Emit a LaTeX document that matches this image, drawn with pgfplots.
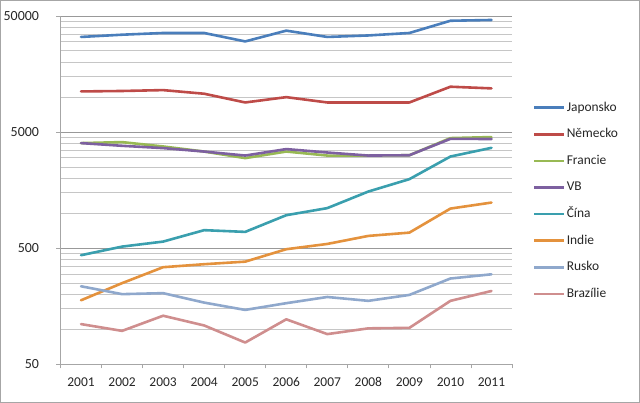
\documentclass[border=0pt]{standalone}
\usepackage{pgfplots}
\pgfplotsset{compat=1.18}
\usepackage{fontspec}
\setmainfont{Carlito}
\definecolor{cJap}{HTML}{4A7EBB}
\definecolor{cNem}{HTML}{BE4B48}
\definecolor{cFra}{HTML}{98B954}
\definecolor{cVB}{HTML}{7D60A0}
\definecolor{cCin}{HTML}{3A9FAE}
\definecolor{cInd}{HTML}{E4923D}
\definecolor{cRus}{HTML}{8FA8CC}
\definecolor{cBra}{HTML}{CF8E8E}
\begin{document}
\begin{tikzpicture}
\useasboundingbox (0,0) rectangle (640bp,403bp);
\draw[gray!70, line width=1bp] (0.5bp,0.5bp) rectangle (639.5bp,402.5bp);
\begin{axis}[
  at={(60.5bp,38.7bp)}, anchor=south west,
  scale only axis, width=451.5bp, height=348.3bp,
  ymode=log, ymin=50, ymax=50000,
  xmin=0.5, xmax=11.5,
  axis x line=bottom, axis y line=left,
  axis line style={gray!70, line width=0.8bp, -},
  xtick={0.5,1.5,...,11.5},
  x tick label as interval,
  xticklabels={2001,2002,2003,2004,2005,2006,2007,2008,2009,2010,2011},
  ytick={50,500,5000,50000},
  yticklabels={50,500,5000,50000},
  minor ytick={100,150,200,250,300,350,400,450,1000,1500,2000,2500,3000,3500,4000,4500,10000,15000,20000,25000,30000,35000,40000,45000},
  tick align=outside,
  major tick length=4bp,
  minor tick length=0pt,
  tick style={gray!70, line width=0.8bp},
  ymajorgrids, yminorgrids,
  major grid style={gray!80, line width=0.9bp},
  minor grid style={gray!45, line width=0.9bp},
  ticklabel style={text=black!85},
  yticklabel style={xshift=-14bp, font=\fontsize{14}{16}\selectfont},
  xticklabel style={yshift=-6bp, font=\fontsize{13.5}{15}\selectfont},
  every axis plot/.append style={line width=2.6bp, line join=round, line cap=round},
  legend style={at={(1.0465,0.4697)}, anchor=west, draw=none, fill=none,
    inner sep=0pt, row sep=11.6bp,
    font=\fontsize{13.5}{15}\selectfont,
    nodes={inner sep=1bp, text height=10bp, text depth=3bp, anchor=west, text=black!85}},
  legend cell align=left,
  legend image code/.code={\draw[#1, line cap=butt] (0bp,0bp) -- (30bp,0bp);},
  clip=false,
]
\addplot[cJap] coordinates {(1,33000)(2,34500)(3,35700)(4,35700)(5,30200)(6,37400)(7,33000)(8,34000)(9,35700)(10,45500)(11,46200)};
\addplot[cNem] coordinates {(1,11200)(2,11300)(3,11500)(4,10700)(5,9000)(6,10000)(7,9000)(8,9000)(9,9000)(10,12300)(11,11900)};
\addplot[cFra] coordinates {(1,4020)(2,4100)(3,3760)(4,3400)(5,2985)(6,3400)(7,3140)(8,3140)(9,3160)(10,4440)(11,4530)};
\addplot[cVB] coordinates {(1,4020)(2,3810)(3,3640)(4,3400)(5,3140)(6,3570)(7,3335)(8,3140)(9,3160)(10,4375)(11,4360)};
\addplot[cCin] coordinates {(1,435)(2,516)(3,570)(4,715)(5,691)(6,962)(7,1107)(8,1538)(9,1967)(10,3080)(11,3660)};
\addplot[cInd] coordinates {(1,178)(2,250)(3,343)(4,364)(5,383)(6,490)(7,544)(8,638)(9,681)(10,1097)(11,1236)};
\addplot[cRus] coordinates {(1,235)(2,201)(3,205)(4,170)(5,147)(6,168)(7,190)(8,176)(9,198)(10,274)(11,298)};
\addplot[cBra] coordinates {(1,111)(2,97)(3,131)(4,108)(5,77)(6,122)(7,91)(8,102)(9,103)(10,176)(11,214)};
\legend{Japonsko,Německo,Francie,VB,Čína,Indie,Rusko,Brazílie}
\end{axis}
\end{tikzpicture}
\end{document}
